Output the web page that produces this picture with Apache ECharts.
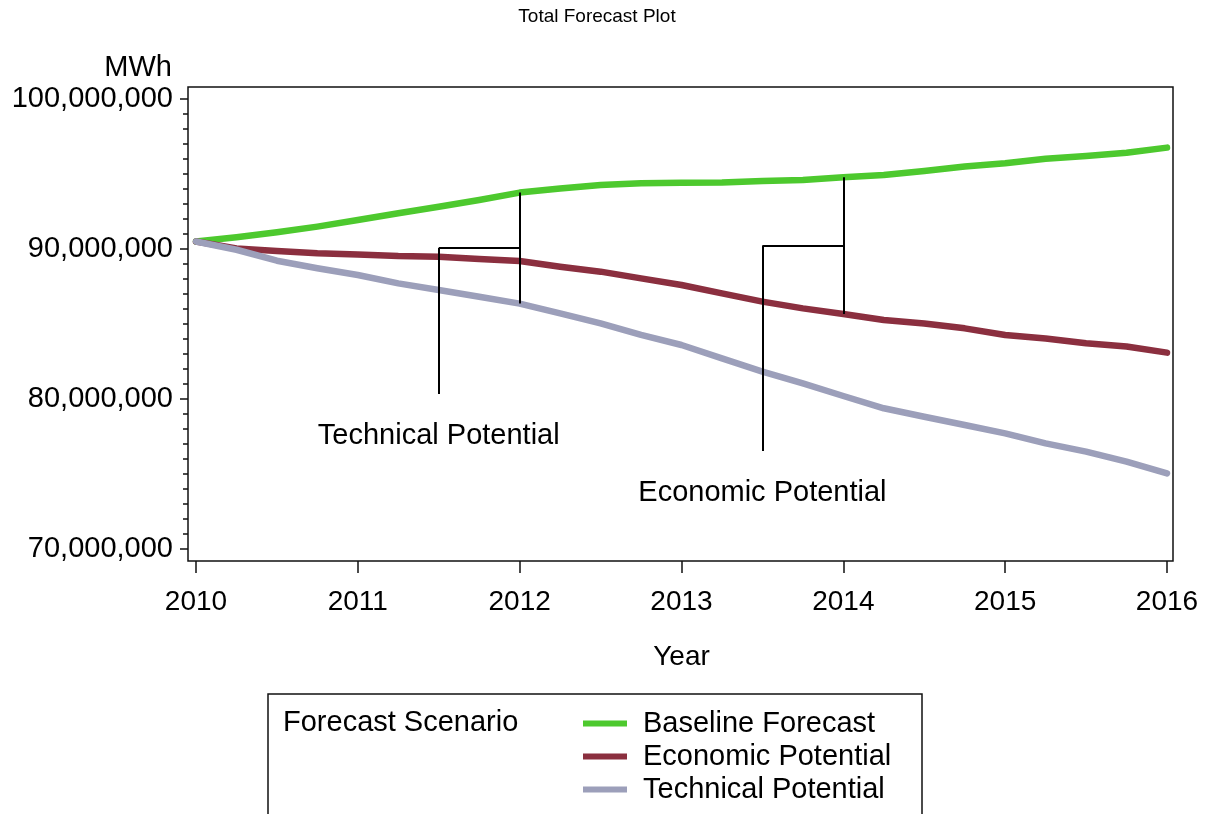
<!DOCTYPE html>
<html>
<head>
<meta charset="utf-8">
<title>Total Forecast Plot</title>
<script src="https://cdn.jsdelivr.net/npm/echarts@6/dist/echarts.min.js"></script>
<style>
    html, body { margin: 0; padding: 0; background: #fff; }
    #chartDom { width: 1211px; height: 814px; }
</style>
</head>
<body>
<div id="chartDom"></div>
<script>
// quarterly points, MWh
const years = [
    2010, 2010.25, 2010.5, 2010.75, 2011, 2011.25, 2011.5, 2011.75, 2012,
    2012.25, 2012.5, 2012.75, 2013, 2013.25, 2013.5, 2013.75, 2014,
    2014.25, 2014.5, 2014.75, 2015, 2015.25, 2015.5, 2015.75, 2016,
];
const baseline = [
    90500000, 90780000, 91110000, 91490000, 91930000, 92380000, 92820000, 93270000, 93760000,
    94040000, 94270000, 94380000, 94420000, 94430000, 94530000, 94600000, 94780000,
    94930000, 95200000, 95500000, 95710000, 96020000, 96200000, 96420000, 96760000,
];
const economic = [
    90500000, 90040000, 89870000, 89710000, 89640000, 89530000, 89490000, 89330000, 89200000,
    88820000, 88490000, 88040000, 87600000, 87040000, 86490000, 86040000, 85670000,
    85270000, 85040000, 84710000, 84270000, 84040000, 83710000, 83500000, 83090000,
];
const technical = [
    90500000, 89950000, 89220000, 88720000, 88270000, 87710000, 87270000, 86820000, 86360000,
    85710000, 85040000, 84270000, 83600000, 82710000, 81820000, 81040000, 80200000,
    79380000, 78820000, 78270000, 77710000, 77040000, 76490000, 75820000, 75040000,
];
const seriesNames = ["Baseline Forecast", "Economic Potential", "Technical Potential"];
const seriesColors = ["#4dc92e", "#8b2f3f", "#9c9fba"];
const yTicks = [70000000, 80000000, 90000000, 100000000];
const xTicks = [2010, 2011, 2012, 2013, 2014, 2015, 2016];

// annotation brackets: gap year, label year, leg bottom, label value
const techNote = { at: 2012, labelX: 2011.5, legEnd: 80330000, labelY: 77550000 };
const econNote = { at: 2014, labelX: 2013.5, legEnd: 76530000, labelY: 73750000 };

const FONT = "'Liberation Sans', Arial, sans-serif";

function pairs(xs, ys) {
    return xs.map((x, i) => [x, ys[i]]);
}

function bracket(note, upper, lower) {
    const i = years.indexOf(note.at);
    const top = upper[i];
    const bot = lower[i];
    const mid = (top + bot) / 2;
    return [
        [{ coord: [note.at, top] }, { coord: [note.at, bot] }],
        [{ coord: [note.labelX, mid] }, { coord: [note.at, mid] }],
        [{ coord: [note.labelX, mid] }, { coord: [note.labelX, note.legEnd] }],
    ];
}

let myChart = echarts.init(document.getElementById("chartDom"));

const lineSeries = [baseline, economic, technical].map((vals, i) => ({
    name: seriesNames[i],
    type: "line",
    data: pairs(years, vals),
    showSymbol: false,
    symbol: "none",
    color: seriesColors[i],
    itemStyle: { color: seriesColors[i] },
    lineStyle: { color: seriesColors[i], width: 6.5, cap: "round", join: "round" },
    z: 3,
    animation: false,
}));

let option = {
    animation: false,
    title: {
        text: "Total Forecast Plot",
        left: 592,
        top: 2,
        textAlign: "center",
        textStyle: { fontFamily: FONT, fontSize: 19, fontWeight: "normal", color: "#000" },
    },
    grid: [
        // data area
        { left: 196, right: 44, top: 99, bottom: 265 },
        // outer frame
        { left: 188, right: 38, top: 87, bottom: 253, show: true, borderColor: "#111", borderWidth: 1.5, backgroundColor: "transparent" },
    ],
    xAxis: [
        {
            type: "value",
            gridIndex: 0,
            min: 2010,
            max: 2016,
            interval: 1,
            offset: 12,
            name: "Year",
            nameLocation: "middle",
            nameGap: 82,
            nameTextStyle: { fontFamily: FONT, fontSize: 28, color: "#000" },
            axisLine: { show: false },
            axisTick: { show: true, length: 12, lineStyle: { color: "#111", width: 1.5 }, customValues: xTicks },
            axisLabel: { fontFamily: FONT, fontSize: 28, color: "#000", margin: 27, customValues: xTicks, formatter: (v) => String(v) },
            splitLine: { show: false },
        },
        { type: "value", gridIndex: 1, show: false },
    ],
    yAxis: [
        {
            type: "value",
            gridIndex: 0,
            min: 70000000,
            max: 100000000,
            interval: 10000000,
            offset: 8,
            name: "MWh",
            nameLocation: "end",
            nameGap: 17,
            nameTextStyle: { fontFamily: FONT, fontSize: 29, color: "#000", align: "right", padding: [0, 16, 0, 0] },
            axisLine: { show: false },
            axisTick: { show: true, length: 8, lineStyle: { color: "#111", width: 1.5 } },
            minorTick: { show: true, splitNumber: 10, length: 5, lineStyle: { color: "#111", width: 1.5 } },
            axisLabel: {
                fontFamily: FONT,
                fontSize: 29,
                color: "#000",
                margin: 15,
                customValues: yTicks,
                formatter: (v) => v.toLocaleString("en-US"),
            },
            splitLine: { show: false },
            minorSplitLine: { show: false },
        },
        { type: "value", gridIndex: 1, show: false },
    ],
    legend: {
        data: seriesNames,
        orient: "vertical",
        left: 583,
        top: 707,
        padding: 0,
        icon: "rect",
        itemWidth: 44,
        itemHeight: 6,
        itemGap: 0,
        selectedMode: false,
        textStyle: { fontFamily: FONT, fontSize: 29, color: "#000", lineHeight: 33, padding: [0, 0, 0, 11] },
    },
    graphic: [
        {
            type: "rect",
            shape: { x: 268, y: 694, width: 654, height: 200 },
            style: { fill: "none", stroke: "#111", lineWidth: 1.5 },
            silent: true,
        },
        {
            type: "text",
            style: { x: 283, y: 723, text: "Forecast Scenario", font: "29px " + FONT, fill: "#000", verticalAlign: "middle" },
            silent: true,
        },
    ],
    series: [
        ...lineSeries,
        {
            name: "notes",
            type: "line",
            data: [],
            silent: true,
            z: 4,
            markLine: {
                silent: true,
                symbol: ["none", "none"],
                animation: false,
                label: { show: false },
                lineStyle: { color: "#000", width: 2, type: "solid" },
                emphasis: { disabled: true },
                data: [...bracket(techNote, baseline, technical), ...bracket(econNote, baseline, economic)],
            },
            markPoint: {
                silent: true,
                symbol: "circle",
                symbolSize: 0,
                animation: false,
                label: {
                    show: true,
                    position: "inside",
                    fontFamily: FONT,
                    fontSize: 29,
                    color: "#000",
                    formatter: (p) => p.name,
                },
                data: [
                    { name: "Technical Potential", coord: [techNote.labelX, techNote.labelY] },
                    { name: "Economic Potential", coord: [econNote.labelX, econNote.labelY] },
                ],
            },
        },
    ],
};

option && myChart.setOption(option);
</script>
</body>
</html>
